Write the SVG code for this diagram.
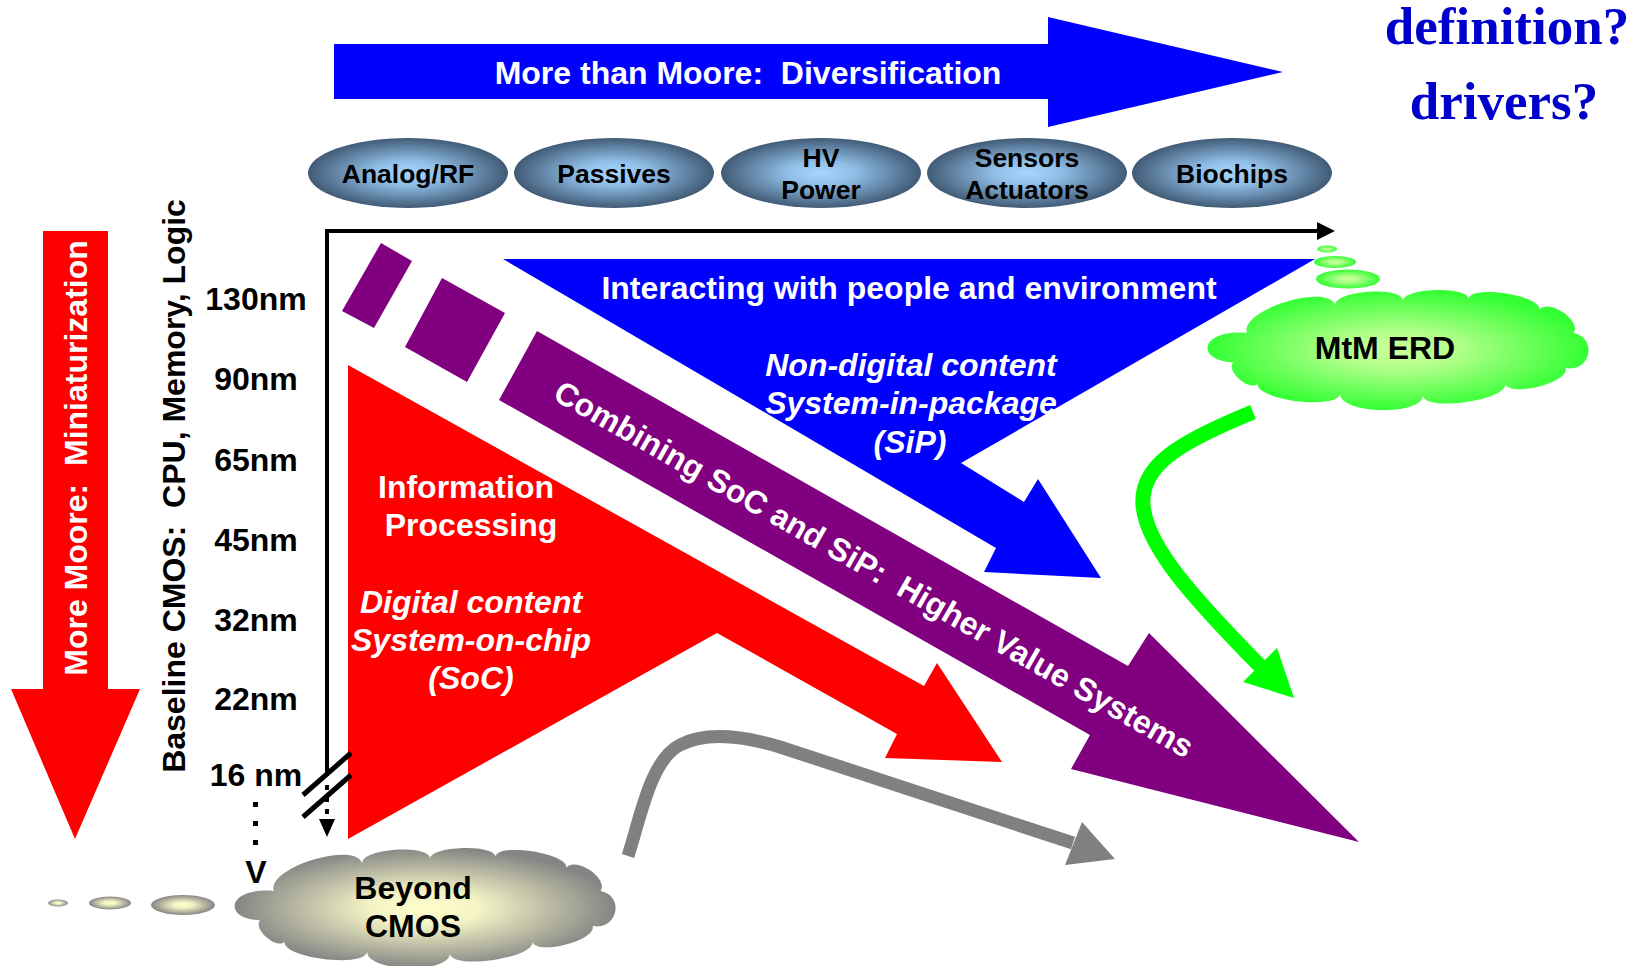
<svg xmlns="http://www.w3.org/2000/svg" width="1639" height="966" viewBox="0 0 1639 966">
  <defs>
    <style>
      .t { font-family: "Liberation Sans", Arial, sans-serif; font-weight: bold; font-size: 32px; text-anchor: middle; }
      .w { fill: #ffffff; }
      .k { fill: #000000; }
      .it { font-style: italic; }
      .el { font-size: 26.5px; }
      .q { font-family: "Liberation Serif", "Times New Roman", serif; font-weight: bold; font-size: 53px; fill: #0000cc; text-anchor: middle; }
      .axis { fill: none; stroke: #000; stroke-width: 4; }
    </style>
    <radialGradient id="gEll" cx="50%" cy="50%" r="50%">
      <stop offset="0" stop-color="#a6d6ff"/>
      <stop offset="0.35" stop-color="#8fbde6"/>
      <stop offset="1" stop-color="#415b76"/>
    </radialGradient>
    <radialGradient id="gGray" cx="50%" cy="50%" r="50%">
      <stop offset="0" stop-color="#ffffcc"/>
      <stop offset="0.3" stop-color="#f2f2c4"/>
      <stop offset="1" stop-color="#858585"/>
    </radialGradient>
    <radialGradient id="gGreen" cx="50%" cy="50%" r="50%">
      <stop offset="0" stop-color="#ccff99"/>
      <stop offset="0.3" stop-color="#b4ff8c"/>
      <stop offset="1" stop-color="#33ff33"/>
    </radialGradient>
    <!-- cloud outline, reused for both clouds -->
    <path id="cloud" d="M34,40 C25.9,15.4 116.9,-14.6 125,10 C123.8,-6 193.8,-11 195,5 C194.5,-9 261.5,-11 262,3 C264.5,-12.8 337.5,-0.8 335,15 C344.3,2 379.3,27 370,40 C395.5,45.4 387.5,83.4 362,78 C366.2,93.5 304.2,110.5 300,95 C302.7,112.8 217.7,125.8 215,108 C214.5,130 129.5,128 130,106 C127.7,123.9 42.7,112.9 45,95 C36.9,103.8 11.9,80.8 20,72 C-20,70 -14,36 34,40 Z"/>
  </defs>

  <rect x="0" y="0" width="1639" height="966" fill="#ffffff"/>

  <!-- More than Moore banner arrow -->
  <g id="mtm-banner">
    <polygon points="334,44 1048,44 1048,17 1283,72 1048,127 1048,99 334,99" fill="#0000ff"/>
    <text class="t w" x="748" y="84" xml:space="preserve">More than Moore:  Diversification</text>
  </g>

  <!-- Open questions -->
  <g id="questions">
    <text class="q" x="1507" y="44">definition?</text>
    <text class="q" x="1504" y="119">drivers?</text>
  </g>

  <!-- Diversification categories -->
  <g id="node-analog-rf">
    <ellipse cx="408" cy="173" rx="100" ry="35" fill="url(#gEll)"/>
    <text class="t k el" x="408" y="183">Analog/RF</text>
  </g>
  <g id="node-passives">
    <ellipse cx="614" cy="173" rx="100" ry="35" fill="url(#gEll)"/>
    <text class="t k el" x="614" y="183">Passives</text>
  </g>
  <g id="node-hv-power">
    <ellipse cx="821" cy="173" rx="100" ry="35" fill="url(#gEll)"/>
    <text class="t k el" x="821" y="167">HV</text>
    <text class="t k el" x="821" y="199">Power</text>
  </g>
  <g id="node-sensors">
    <ellipse cx="1027" cy="173" rx="100" ry="35" fill="url(#gEll)"/>
    <text class="t k el" x="1027" y="167">Sensors</text>
    <text class="t k el" x="1027" y="199">Actuators</text>
  </g>
  <g id="node-biochips">
    <ellipse cx="1232" cy="173" rx="100" ry="35" fill="url(#gEll)"/>
    <text class="t k el" x="1232" y="183">Biochips</text>
  </g>

  <!-- More Moore arrow -->
  <g id="more-moore">
    <polygon points="43,231 108,231 108,689 140,689 75,839 11,689 43,689" fill="#ff0000"/>
    <text class="t w" transform="translate(76,458) rotate(-90)" dy="0.35em" xml:space="preserve">More Moore:  Miniaturization</text>
  </g>

  <!-- Baseline CMOS scale -->
  <g id="baseline-cmos">
    <text class="t k" transform="translate(174,486) rotate(-90)" dy="0.35em" xml:space="preserve">Baseline CMOS:  CPU, Memory, Logic</text>
    <text class="t k" x="256" y="310">130nm</text>
    <text class="t k" x="256" y="390">90nm</text>
    <text class="t k" x="256" y="471">65nm</text>
    <text class="t k" x="256" y="551">45nm</text>
    <text class="t k" x="256" y="631">32nm</text>
    <text class="t k" x="256" y="710">22nm</text>
    <text class="t k" x="256" y="786">16 nm</text>
    <rect x="253" y="802" width="5" height="5" fill="#000"/>
    <rect x="253" y="821" width="5" height="5" fill="#000"/>
    <rect x="253" y="840" width="5" height="5" fill="#000"/>
    <text class="t k" x="256" y="883">V</text>
  </g>

  <!-- Information processing: SoC -->
  <g id="soc">
    <polygon points="348,365 924,686 937,663 1002,762 885,758 897,734 717,633 348,839" fill="#ff0000"/>
    <text class="t w" x="466" y="498">Information</text>
    <text class="t w" x="471" y="536">Processing</text>
    <text class="t w it" x="471" y="613">Digital content</text>
    <text class="t w it" x="471" y="651">System-on-chip</text>
    <text class="t w it" x="471" y="689">(SoC)</text>
  </g>

  <!-- Interacting with people and environment: SiP -->
  <g id="sip">
    <polygon points="503,259 1315,259 961,463 1024,502 1038,479 1101,578 984,572 996,548" fill="#0000ff"/>
    <text class="t w" x="909" y="299">Interacting with people and environment</text>
    <text class="t w it" x="911" y="376">Non-digital content</text>
    <text class="t w it" x="911" y="414">System-in-package</text>
    <text class="t w it" x="910" y="453">(SiP)</text>
  </g>

  <!-- Combining SoC and SiP -->
  <g id="combining">
    <polygon points="381,243 412,261 374,328 342,311" fill="#800080"/>
    <polygon points="442,278 505,313 467,382 405,347" fill="#800080"/>
    <polygon points="537,331 1128,666 1149,633 1359,842 1071,769 1090,735 499,400" fill="#800080"/>
    <text class="t w" transform="translate(874,569) rotate(29.6)" dy="0.35em" xml:space="preserve">Combining SoC and SiP:  Higher Value Systems</text>
  </g>

  <!-- MtM ERD cloud -->
  <g id="mtm-erd">
    <ellipse cx="1327" cy="249" rx="10" ry="3.5" fill="url(#gGreen)"/>
    <ellipse cx="1335" cy="262" rx="21" ry="6" fill="url(#gGreen)"/>
    <ellipse cx="1348" cy="279" rx="32" ry="9.5" fill="url(#gGreen)"/>
    <use href="#cloud" transform="translate(1213.8,296) scale(0.972,0.923)" fill="url(#gGreen)"/>
    <text class="t k" x="1385" y="359">MtM ERD</text>
  </g>

  <!-- Beyond CMOS cloud -->
  <g id="beyond-cmos">
    <ellipse cx="58" cy="903" rx="10" ry="3.5" fill="url(#gGray)"/>
    <ellipse cx="110" cy="903" rx="21" ry="6.5" fill="url(#gGray)"/>
    <ellipse cx="183" cy="905" rx="32" ry="10" fill="url(#gGray)"/>
    <use href="#cloud" transform="translate(240.8,854) scale(0.972,0.923)" fill="url(#gGray)"/>
    <text class="t k" x="413" y="899">Beyond</text>
    <text class="t k" x="413" y="937">CMOS</text>
  </g>

  <!-- Connectors -->
  <g id="connectors">
    <path class="axis" d="M327,776 L327,231 L1318,231"/>
    <polygon points="1317,222 1335,231 1317,240" fill="#000"/>
    <line x1="327" y1="785" x2="327" y2="820" stroke="#000" stroke-width="4" stroke-dasharray="5,7"/>
    <polygon points="319,819 335,819 327,837" fill="#000"/>
    <line x1="303" y1="795" x2="351" y2="753" stroke="#000" stroke-width="5"/>
    <line x1="303" y1="817" x2="351" y2="775" stroke="#000" stroke-width="5"/>
    <path d="M1253,412 C1180,442 1140,465 1143,505 C1146,545 1190,595 1262,668" fill="none" stroke="#00ff00" stroke-width="15"/>
    <polygon points="1243,682 1277,648 1294,698" fill="#00ff00"/>
    <path d="M628,856 C640,820 650,760 680,745 C705,732 740,735 780,747 L1073,843" fill="none" stroke="#808080" stroke-width="13"/>
    <polygon points="1082,822 1115,859 1065,865" fill="#808080"/>
  </g>
</svg>
